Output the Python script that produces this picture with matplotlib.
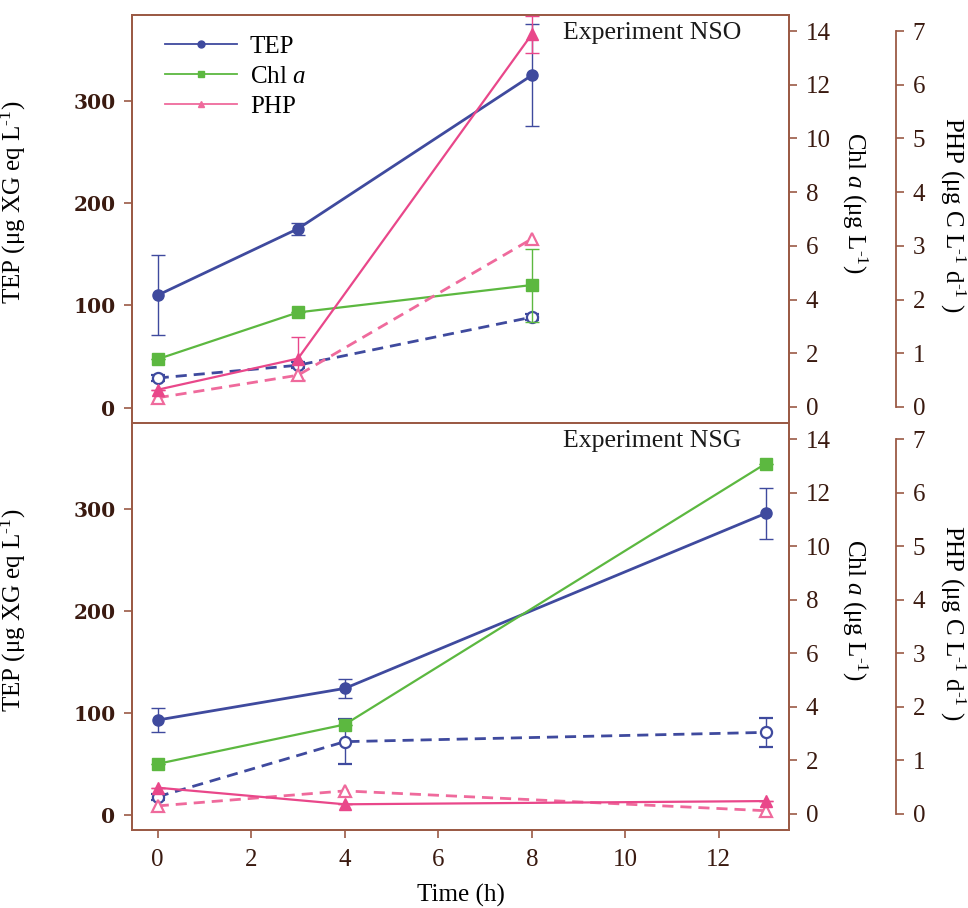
import matplotlib
matplotlib.use("Agg")
import matplotlib.pyplot as plt
from matplotlib.lines import Line2D

plt.rcParams['font.family'] = ['Liberation Serif', 'DejaVu Serif']
plt.rcParams['mathtext.fontset'] = 'custom'
plt.rcParams['mathtext.rm'] = 'Liberation Serif'
plt.rcParams['mathtext.it'] = 'Liberation Serif:italic'

# Experiment NSO
nso_time = [0, 3, 8]
nso_tep = [110, 175, 325]
nso_tep_err = [39, 6, 50]
nso_tep_b = [29, 41.5, 88.5]
nso_tep_b_err = [3, 3, 3]
nso_chl = [1.78, 3.52, 4.54]
nso_chl_err = [0, 0, 1.36]
nso_php = [0.32, 0.90, 6.94]
nso_php_err = [0, 0.40, 0.35]
nso_php_b = [0.17, 0.59, 3.13]

# Experiment NSG
nsg_time = [0, 4, 13]
nsg_tep = [92.8, 123.8, 295.4]
nsg_tep_err = [11.5, 9.5, 25]
nsg_tep_b = [17.6, 71.6, 80.7]
nsg_tep_b_err = [3, 22, 14]
nsg_chl = [1.87, 3.34, 13.08]
nsg_chl_err = [0, 0, 0]
nsg_php = [0.49, 0.18, 0.24]
nsg_php_err = [0, 0, 0]
nsg_php_b = [0.15, 0.43, 0.06]

tep_ticks = [0, 100, 200, 300]
chl_ticks = [0, 2, 4, 6, 8, 10, 12, 14]
php_ticks = [0, 1, 2, 3, 4, 5, 6, 7]
time_ticks = [0, 2, 4, 6, 8, 10, 12]

BLUE = '#3f4a9e'
GREEN = '#5cb840'
PINK = '#e9478a'
PINK_LIGHT = '#ef6a9c'
SPINE = '#9b5a45'
LABEL = '#3a1a10'

SUP = r'$^{\text{-}1}$'

fig = plt.figure(figsize=(9.68, 9.08), dpi=100)


def style_axis(ax):
    ax.tick_params(axis='y', which='both', direction='out', length=6, width=1.2,
                   color=SPINE, labelcolor=LABEL, pad=6)
    for s in ax.spines.values():
        s.set_color(SPINE)
        s.set_linewidth(1.3)


def draw_panel(rect, time, tep, tep_err, tep_b, tep_b_err, chl, chl_err,
               php, php_err, php_b, title, show_x):
    ax = fig.add_axes(rect)
    ax2 = ax.twinx()
    ax3 = ax.twinx()

    ax.set_xlim(-0.55, 13.5)
    ax.set_ylim(-15, 384)
    ax2.set_ylim(-0.6, 14.6)
    ax3.set_ylim(-0.3, 7.3)

    # TEP
    ax.errorbar(time, tep, yerr=tep_err, color=BLUE, lw=2, marker='o', ms=8,
                elinewidth=1, capsize=5, capthick=1, zorder=3)
    ax.errorbar(time, tep_b, yerr=tep_b_err, color=BLUE, lw=2, ls=(0, (4, 2.5)),
                marker='o', ms=8, mfc='white', mec=BLUE, mew=1.6,
                elinewidth=1, capsize=5, capthick=1, zorder=3)
    # Chl a
    ax2.errorbar(time, chl, yerr=chl_err, color=GREEN, lw=1.6, marker='s', ms=8,
                 elinewidth=1, capsize=5, capthick=1)
    # PHP
    ax3.errorbar(time, php, yerr=php_err, color=PINK, lw=1.6, marker='^', ms=9,
                 elinewidth=1, capsize=5, capthick=1)
    ax3.plot(time, php_b, color=PINK_LIGHT, lw=2, ls=(0, (4, 2.5)), marker='^', ms=9,
             mfc='white', mec=PINK_LIGHT, mew=1.6)

    style_axis(ax)
    style_axis(ax2)
    style_axis(ax3)

    ax.set_yticks(tep_ticks)
    for lab in ax.get_yticklabels():
        lab.set_family('DejaVu Serif')
        lab.set_fontsize(14.5)
        lab.set_weight('bold')
    ax2.set_yticks(chl_ticks)
    ax2.tick_params(axis='y', labelsize=18)
    ax3.set_yticks(php_ticks)
    ax3.tick_params(axis='y', labelsize=18)

    ax3.spines['right'].set_position(('axes', 1.163))
    ax3.spines['right'].set_bounds(0, 7)
    for s in ['top', 'bottom', 'left']:
        ax3.spines[s].set_visible(False)

    ax.set_ylabel('TEP (μg XG eq L' + SUP + ')', fontsize=18)
    ax.yaxis.set_label_coords(-0.158, 0.54)
    ax2.set_ylabel('Chl $a$ (μg L' + SUP + ')', fontsize=18, rotation=270, va='center')
    ax2.yaxis.set_label_coords(1.1, 0.54)
    ax3.set_ylabel('PHP (μg C L' + SUP + ' d' + SUP + ' )', fontsize=18,
                   rotation=270, va='center')
    ax3.yaxis.set_label_coords(1.249, 0.51)

    ax.text(0.656, 0.955, title, transform=ax.transAxes, fontsize=18.5,
            ha='left', va='center', color='#1a1a1a')

    ax.set_xticks(time_ticks)
    if show_x:
        ax.tick_params(axis='x', direction='out', length=6, width=1.2, color=SPINE,
                       labelcolor=LABEL, labelsize=18, pad=8)
        ax.set_xlabel('Time (h)', fontsize=18, labelpad=9)
    else:
        ax.tick_params(axis='x', length=0, labelbottom=False)
    return ax


left = 132 / 968
width = (789 - 132) / 968
top_ax = draw_panel([left, 1 - 423 / 908, width, 408 / 908], nso_time, nso_tep, nso_tep_err,
                    nso_tep_b, nso_tep_b_err, nso_chl, nso_chl_err, nso_php, nso_php_err,
                    nso_php_b, 'Experiment NSO', False)
draw_panel([left, 1 - 830 / 908, width, 407 / 908], nsg_time, nsg_tep, nsg_tep_err,
           nsg_tep_b, nsg_tep_b_err, nsg_chl, nsg_chl_err, nsg_php, nsg_php_err,
           nsg_php_b, 'Experiment NSG', True)

handles = [
    Line2D([], [], color=BLUE, lw=1.3, marker='o', ms=5),
    Line2D([], [], color=GREEN, lw=1.3, marker='s', ms=5),
    Line2D([], [], color=PINK_LIGHT, lw=1.3, marker='^', ms=5),
]
top_ax.legend(handles, ['TEP', 'Chl $a$', 'PHP'], loc='upper left',
              bbox_to_anchor=(0.035, 0.975), frameon=False, fontsize=18,
              handlelength=2.9, handletextpad=0.5, labelspacing=0.3, borderaxespad=0)

fig.savefig('out.png', dpi=100)
